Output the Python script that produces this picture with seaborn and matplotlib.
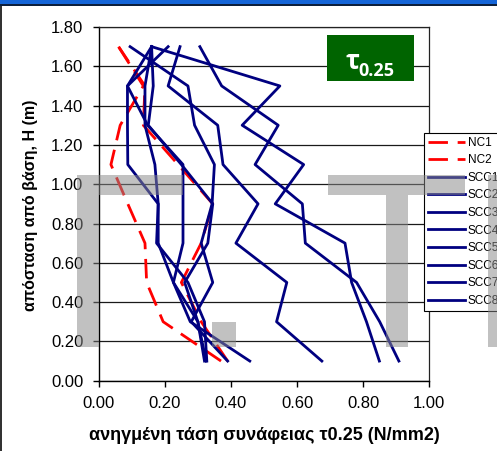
import matplotlib
matplotlib.use("Agg")
import matplotlib.pyplot as plt
from matplotlib.patches import Rectangle
from matplotlib.ticker import FormatStrFormatter
import pandas as pd
import seaborn as sns

# Heights along the specimen (m) where the bond stress was evaluated
heights = [0.1, 0.3, 0.5, 0.7, 0.9, 1.1, 1.3, 1.5, 1.7]

# Normalised bond stress tau0.25 (N/mm2) for each specimen, bottom to top
nc1 = [0.37, 0.195, 0.145, 0.14, 0.088, 0.037, 0.065, 0.135, 0.06]
nc2 = [0.39, 0.31, 0.25, 0.31, 0.345, 0.24, 0.135, 0.14, 0.06]
scc1 = [0.849, 0.81, 0.765, 0.745, 0.534, 0.62, 0.434, 0.548, 0.16]
scc2 = [0.908, 0.85, 0.78, 0.625, 0.616, 0.473, 0.543, 0.372, 0.306]
scc3 = [0.675, 0.538, 0.569, 0.415, 0.482, 0.376, 0.36, 0.21, 0.246]
scc4 = [0.327, 0.32, 0.27, 0.175, 0.18, 0.17, 0.14, 0.14, 0.16]
scc5 = [0.457, 0.277, 0.226, 0.18, 0.18, 0.088, 0.087, 0.087, 0.16]
scc6 = [0.32, 0.30, 0.226, 0.255, 0.255, 0.255, 0.148, 0.087, 0.21]
scc7 = [0.39, 0.28, 0.345, 0.31, 0.343, 0.35, 0.29, 0.27, 0.095]
scc8 = [0.325, 0.30, 0.26, 0.33, 0.345, 0.25, 0.15, 0.165, 0.16]

series_names = ["NC1", "NC2", "SCC1", "SCC2", "SCC3", "SCC4",
                "SCC5", "SCC6", "SCC7", "SCC8"]
series_values = [nc1, nc2, scc1, scc2, scc3, scc4, scc5, scc6, scc7, scc8]

x_ticks = [0.0, 0.2, 0.4, 0.6, 0.8, 1.0]
y_ticks = [0.0, 0.2, 0.4, 0.6, 0.8, 1.0, 1.2, 1.4, 1.6, 1.8]

xlabel = "ανηγμένη τάση συνάφειας τ0.25 (N/mm2)"
ylabel = "απόσταση από βάση, H (m)"

rows = []
for name, vals in zip(series_names, series_values):
    for h, v in zip(heights, vals):
        rows.append({"series": name, "H": h, "tau": v})
df = pd.DataFrame(rows)

plt.rcParams["font.family"] = ["Liberation Sans", "DejaVu Sans"]

W, H = 497, 451
fig = plt.figure(figsize=(W / 100, H / 100), dpi=100)
fig.patch.set_facecolor("white")


def fx(px):
    return px / W


def fy(py):
    return 1 - py / H


ax = fig.add_axes([fx(98.7), fy(380.7), (429.3 - 98.7) / W, (380.7 - 27) / H])
ax.set_facecolor("none")

palette = {n: ("#ff0000" if n.startswith("NC") else "#000080") for n in series_names}
dashes = {n: ((7, 3.5) if n.startswith("NC") else "") for n in series_names}

sns.lineplot(data=df, x="tau", y="H", hue="series", style="series",
             hue_order=series_names, style_order=series_names,
             palette=palette, dashes=dashes, sort=False, estimator=None,
             linewidth=2.0, legend=False, ax=ax)

ax.set_xlim(0, 1)
ax.set_ylim(0, 1.8)
ax.set_xticks(x_ticks)
ax.set_yticks(y_ticks)
ax.xaxis.set_major_formatter(FormatStrFormatter("%.2f"))
ax.yaxis.set_major_formatter(FormatStrFormatter("%.2f"))
ax.set_xlabel("")
ax.set_ylabel("")
ax.tick_params(axis="both", direction="out", length=4, width=1,
               colors="black", labelsize=12, pad=7,
               bottom=True, left=True, top=False, right=False)
ax.yaxis.grid(True, color="#1a1a1a", linewidth=0.9)
ax.xaxis.grid(False)
ax.set_axisbelow(True)
for side in ["left", "bottom"]:
    ax.spines[side].set_color("black")
    ax.spines[side].set_linewidth(1.0)
for side in ["top", "right"]:
    ax.spines[side].set_color("#222222")
    ax.spines[side].set_linewidth(0.9)

fig.text(fx(31), fy(205), ylabel, rotation=90, ha="center", va="center",
         fontsize=11.5, fontweight="bold")
fig.text(fx(264), fy(435), xlabel, ha="center", va="center",
         fontsize=13, fontweight="bold")

handles = ax.get_lines()[:len(series_names)]
leg = fig.legend(handles, series_names, loc="upper left",
                 bbox_to_anchor=(fx(424), fy(132.7)),
                 bbox_transform=fig.transFigure, frameon=True, fancybox=False,
                 edgecolor="black", facecolor="white", framealpha=1,
                 fontsize=8.5, handlelength=3.1, handletextpad=0.25,
                 labelspacing=0.47, borderpad=0.35, borderaxespad=0)
leg.get_frame().set_linewidth(0.8)
leg.set_zorder(5)

# Grey letter shapes laid over the chart
grey_blocks = [
    (77, 175, 183, 195),
    (77, 195, 98.7, 346.7),
    (211.7, 321.7, 236, 346.7),
    (328, 175, 465, 195),
    (385.7, 195, 407.7, 346.7),
    (488, 175, 497, 346.7),
]
for x0, y0, x1, y1 in grey_blocks:
    fig.add_artist(Rectangle((fx(x0), fy(y1)), (x1 - x0) / W, (y1 - y0) / H,
                             transform=fig.transFigure, facecolor="#888888",
                             edgecolor="none", alpha=0.52, zorder=10))

# Green tag with the stress symbol
fig.add_artist(Rectangle((fx(327), fy(80.7)), (414 - 327) / W, (80.7 - 35) / H,
                         transform=fig.transFigure, facecolor="#006400",
                         edgecolor="none", zorder=11))
fig.text(fx(352.5), fy(69), "τ", ha="center", va="baseline", color="white",
         fontsize=19, fontweight="bold", family=["Open Sans", "DejaVu Sans"],
         zorder=12)
fig.text(fx(358), fy(76), "0.25", ha="left", va="baseline", color="white",
         fontsize=13, fontweight="bold", family=["Open Sans", "DejaVu Sans"],
         zorder=12)

# Window frame
fig.add_artist(Rectangle((0, fy(4)), 1, 4 / H, transform=fig.transFigure,
                         facecolor="#1565d8", edgecolor="none", zorder=20))
fig.add_artist(Rectangle((0, fy(5.5)), 1, 1.5 / H, transform=fig.transFigure,
                         facecolor="#0d1f3c", edgecolor="none", zorder=20))
fig.add_artist(Rectangle((0, 0), 2 / W, fy(5.5), transform=fig.transFigure,
                         facecolor="#333333", edgecolor="none", zorder=20))

fig.savefig("out.png", dpi=100, facecolor="white")
